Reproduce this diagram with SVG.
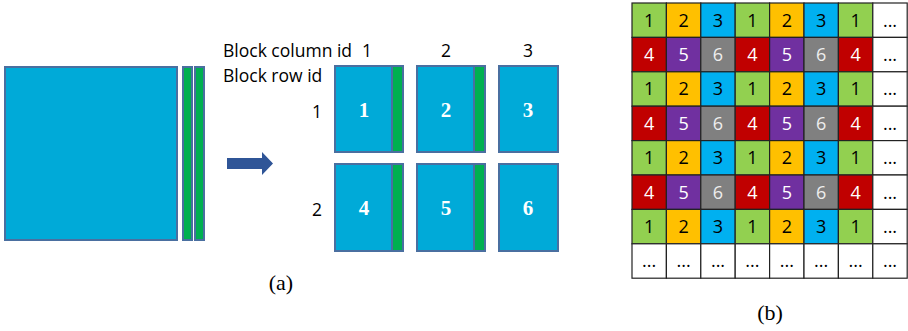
<svg xmlns="http://www.w3.org/2000/svg" width="908" height="331" viewBox="0 0 908 331">
<style>
.blk{fill:#00aad8;stroke:#4a6fa0;stroke-width:2}
.grn{fill:#00b050;stroke:#4a6fa0;stroke-width:2}
.lbl{font-family:"Open Sans","Liberation Sans",sans-serif;font-size:17.5px;fill:#000}
.num{font-family:"Liberation Serif",serif;font-size:21px;font-weight:bold;fill:#fff;text-anchor:middle}
.cap{font-family:"Liberation Serif",serif;font-size:22px;fill:#000;text-anchor:middle}
.c{stroke:#222;stroke-width:1.2}
.g{fill:#92d050}.y{fill:#ffc000}.b{fill:#00b0f0}.r{fill:#c00000}.p{fill:#7030a0}.k{fill:#808080}.w{fill:#fff}
.t{font-family:"Open Sans","Liberation Sans",sans-serif;font-size:18px;text-anchor:middle}
.tb{fill:#000}.tw{fill:#fff}.tk{fill:#eee}
</style>
<g id="matrix">
<rect class="blk" x="5" y="67" width="172" height="173"/>
<rect class="grn" x="183" y="67" width="9" height="173"/>
<rect class="grn" x="195" y="67" width="9" height="173"/>
</g>
<g id="arrow">
<path d="M227,158 H262 V152 L273,163.5 L262,175 V169 H227 Z" fill="#2f5597"/>
</g>
<g id="labels">
<text class="lbl" x="223" y="57">Block column id</text>
<text class="lbl" x="223" y="82">Block row id</text>
<text class="lbl" x="367" y="57" text-anchor="middle">1</text>
<text class="lbl" x="446" y="57" text-anchor="middle">2</text>
<text class="lbl" x="528" y="57" text-anchor="middle">3</text>
<text class="lbl" x="317" y="118" text-anchor="middle">1</text>
<text class="lbl" x="317" y="216" text-anchor="middle">2</text>
</g>
<g id="block1"><rect class="blk" x="335" y="66" width="57" height="86"/><rect class="grn" x="392" y="66" width="11" height="86"/><text class="num" x="364" y="117">1</text></g>
<g id="block2"><rect class="blk" x="417" y="66" width="57" height="86"/><rect class="grn" x="474" y="66" width="11" height="86"/><text class="num" x="446" y="117">2</text></g>
<g id="block3"><rect class="blk" x="499" y="66" width="59" height="86"/><text class="num" x="528" y="117">3</text></g>
<g id="block4"><rect class="blk" x="335" y="164" width="57" height="87"/><rect class="grn" x="392" y="164" width="11" height="87"/><text class="num" x="364" y="215">4</text></g>
<g id="block5"><rect class="blk" x="417" y="164" width="57" height="87"/><rect class="grn" x="474" y="164" width="11" height="87"/><text class="num" x="446" y="215">5</text></g>
<g id="block6"><rect class="blk" x="499" y="164" width="59" height="87"/><text class="num" x="528" y="215">6</text></g>
<text class="cap" x="281" y="290">(a)</text>
<g id="grid">
<g id="row1">
<rect class="c g" x="632" y="3" width="34.4" height="34.4"/><text class="t tb" x="649.2" y="26.5">1</text>
<rect class="c y" x="666.4" y="3" width="34.4" height="34.4"/><text class="t tb" x="683.6" y="26.5">2</text>
<rect class="c b" x="700.8" y="3" width="34.4" height="34.4"/><text class="t tb" x="718" y="26.5">3</text>
<rect class="c g" x="735.2" y="3" width="34.4" height="34.4"/><text class="t tb" x="752.4" y="26.5">1</text>
<rect class="c y" x="769.6" y="3" width="34.4" height="34.4"/><text class="t tb" x="786.8" y="26.5">2</text>
<rect class="c b" x="804" y="3" width="34.4" height="34.4"/><text class="t tb" x="821.2" y="26.5">3</text>
<rect class="c g" x="838.4" y="3" width="34.4" height="34.4"/><text class="t tb" x="855.6" y="26.5">1</text>
<rect class="c w" x="872.8" y="3" width="34.4" height="34.4"/><text class="t tb" x="890" y="26.5" font-size="13">...</text>
</g>
<g id="row2">
<rect class="c r" x="632" y="37.4" width="34.4" height="34.4"/><text class="t tw" x="649.2" y="60.9">4</text>
<rect class="c p" x="666.4" y="37.4" width="34.4" height="34.4"/><text class="t tw" x="683.6" y="60.9">5</text>
<rect class="c k" x="700.8" y="37.4" width="34.4" height="34.4"/><text class="t tk" x="718" y="60.9">6</text>
<rect class="c r" x="735.2" y="37.4" width="34.4" height="34.4"/><text class="t tw" x="752.4" y="60.9">4</text>
<rect class="c p" x="769.6" y="37.4" width="34.4" height="34.4"/><text class="t tw" x="786.8" y="60.9">5</text>
<rect class="c k" x="804" y="37.4" width="34.4" height="34.4"/><text class="t tk" x="821.2" y="60.9">6</text>
<rect class="c r" x="838.4" y="37.4" width="34.4" height="34.4"/><text class="t tw" x="855.6" y="60.9">4</text>
<rect class="c w" x="872.8" y="37.4" width="34.4" height="34.4"/><text class="t tb" x="890" y="60.9" font-size="13">...</text>
</g>
<g id="row3">
<rect class="c g" x="632" y="71.8" width="34.4" height="34.4"/><text class="t tb" x="649.2" y="95.3">1</text>
<rect class="c y" x="666.4" y="71.8" width="34.4" height="34.4"/><text class="t tb" x="683.6" y="95.3">2</text>
<rect class="c b" x="700.8" y="71.8" width="34.4" height="34.4"/><text class="t tb" x="718" y="95.3">3</text>
<rect class="c g" x="735.2" y="71.8" width="34.4" height="34.4"/><text class="t tb" x="752.4" y="95.3">1</text>
<rect class="c y" x="769.6" y="71.8" width="34.4" height="34.4"/><text class="t tb" x="786.8" y="95.3">2</text>
<rect class="c b" x="804" y="71.8" width="34.4" height="34.4"/><text class="t tb" x="821.2" y="95.3">3</text>
<rect class="c g" x="838.4" y="71.8" width="34.4" height="34.4"/><text class="t tb" x="855.6" y="95.3">1</text>
<rect class="c w" x="872.8" y="71.8" width="34.4" height="34.4"/><text class="t tb" x="890" y="95.3" font-size="13">...</text>
</g>
<g id="row4">
<rect class="c r" x="632" y="106.2" width="34.4" height="34.4"/><text class="t tw" x="649.2" y="129.7">4</text>
<rect class="c p" x="666.4" y="106.2" width="34.4" height="34.4"/><text class="t tw" x="683.6" y="129.7">5</text>
<rect class="c k" x="700.8" y="106.2" width="34.4" height="34.4"/><text class="t tk" x="718" y="129.7">6</text>
<rect class="c r" x="735.2" y="106.2" width="34.4" height="34.4"/><text class="t tw" x="752.4" y="129.7">4</text>
<rect class="c p" x="769.6" y="106.2" width="34.4" height="34.4"/><text class="t tw" x="786.8" y="129.7">5</text>
<rect class="c k" x="804" y="106.2" width="34.4" height="34.4"/><text class="t tk" x="821.2" y="129.7">6</text>
<rect class="c r" x="838.4" y="106.2" width="34.4" height="34.4"/><text class="t tw" x="855.6" y="129.7">4</text>
<rect class="c w" x="872.8" y="106.2" width="34.4" height="34.4"/><text class="t tb" x="890" y="129.7" font-size="13">...</text>
</g>
<g id="row5">
<rect class="c g" x="632" y="140.6" width="34.4" height="34.4"/><text class="t tb" x="649.2" y="164.1">1</text>
<rect class="c y" x="666.4" y="140.6" width="34.4" height="34.4"/><text class="t tb" x="683.6" y="164.1">2</text>
<rect class="c b" x="700.8" y="140.6" width="34.4" height="34.4"/><text class="t tb" x="718" y="164.1">3</text>
<rect class="c g" x="735.2" y="140.6" width="34.4" height="34.4"/><text class="t tb" x="752.4" y="164.1">1</text>
<rect class="c y" x="769.6" y="140.6" width="34.4" height="34.4"/><text class="t tb" x="786.8" y="164.1">2</text>
<rect class="c b" x="804" y="140.6" width="34.4" height="34.4"/><text class="t tb" x="821.2" y="164.1">3</text>
<rect class="c g" x="838.4" y="140.6" width="34.4" height="34.4"/><text class="t tb" x="855.6" y="164.1">1</text>
<rect class="c w" x="872.8" y="140.6" width="34.4" height="34.4"/><text class="t tb" x="890" y="164.1" font-size="13">...</text>
</g>
<g id="row6">
<rect class="c r" x="632" y="175" width="34.4" height="34.4"/><text class="t tw" x="649.2" y="198.5">4</text>
<rect class="c p" x="666.4" y="175" width="34.4" height="34.4"/><text class="t tw" x="683.6" y="198.5">5</text>
<rect class="c k" x="700.8" y="175" width="34.4" height="34.4"/><text class="t tk" x="718" y="198.5">6</text>
<rect class="c r" x="735.2" y="175" width="34.4" height="34.4"/><text class="t tw" x="752.4" y="198.5">4</text>
<rect class="c p" x="769.6" y="175" width="34.4" height="34.4"/><text class="t tw" x="786.8" y="198.5">5</text>
<rect class="c k" x="804" y="175" width="34.4" height="34.4"/><text class="t tk" x="821.2" y="198.5">6</text>
<rect class="c r" x="838.4" y="175" width="34.4" height="34.4"/><text class="t tw" x="855.6" y="198.5">4</text>
<rect class="c w" x="872.8" y="175" width="34.4" height="34.4"/><text class="t tb" x="890" y="198.5" font-size="13">...</text>
</g>
<g id="row7">
<rect class="c g" x="632" y="209.4" width="34.4" height="34.4"/><text class="t tb" x="649.2" y="232.9">1</text>
<rect class="c y" x="666.4" y="209.4" width="34.4" height="34.4"/><text class="t tb" x="683.6" y="232.9">2</text>
<rect class="c b" x="700.8" y="209.4" width="34.4" height="34.4"/><text class="t tb" x="718" y="232.9">3</text>
<rect class="c g" x="735.2" y="209.4" width="34.4" height="34.4"/><text class="t tb" x="752.4" y="232.9">1</text>
<rect class="c y" x="769.6" y="209.4" width="34.4" height="34.4"/><text class="t tb" x="786.8" y="232.9">2</text>
<rect class="c b" x="804" y="209.4" width="34.4" height="34.4"/><text class="t tb" x="821.2" y="232.9">3</text>
<rect class="c g" x="838.4" y="209.4" width="34.4" height="34.4"/><text class="t tb" x="855.6" y="232.9">1</text>
<rect class="c w" x="872.8" y="209.4" width="34.4" height="34.4"/><text class="t tb" x="890" y="232.9" font-size="13">...</text>
</g>
<g id="row8">
<rect class="c w" x="632" y="243.8" width="34.4" height="34.4"/><text class="t tb" x="649.2" y="267.3" font-size="13">...</text>
<rect class="c w" x="666.4" y="243.8" width="34.4" height="34.4"/><text class="t tb" x="683.6" y="267.3" font-size="13">...</text>
<rect class="c w" x="700.8" y="243.8" width="34.4" height="34.4"/><text class="t tb" x="718" y="267.3" font-size="13">...</text>
<rect class="c w" x="735.2" y="243.8" width="34.4" height="34.4"/><text class="t tb" x="752.4" y="267.3" font-size="13">...</text>
<rect class="c w" x="769.6" y="243.8" width="34.4" height="34.4"/><text class="t tb" x="786.8" y="267.3" font-size="13">...</text>
<rect class="c w" x="804" y="243.8" width="34.4" height="34.4"/><text class="t tb" x="821.2" y="267.3" font-size="13">...</text>
<rect class="c w" x="838.4" y="243.8" width="34.4" height="34.4"/><text class="t tb" x="855.6" y="267.3" font-size="13">...</text>
<rect class="c w" x="872.8" y="243.8" width="34.4" height="34.4"/><text class="t tb" x="890" y="267.3" font-size="13">...</text>
</g>
</g>
<text class="cap" x="770" y="320">(b)</text>
</svg>
